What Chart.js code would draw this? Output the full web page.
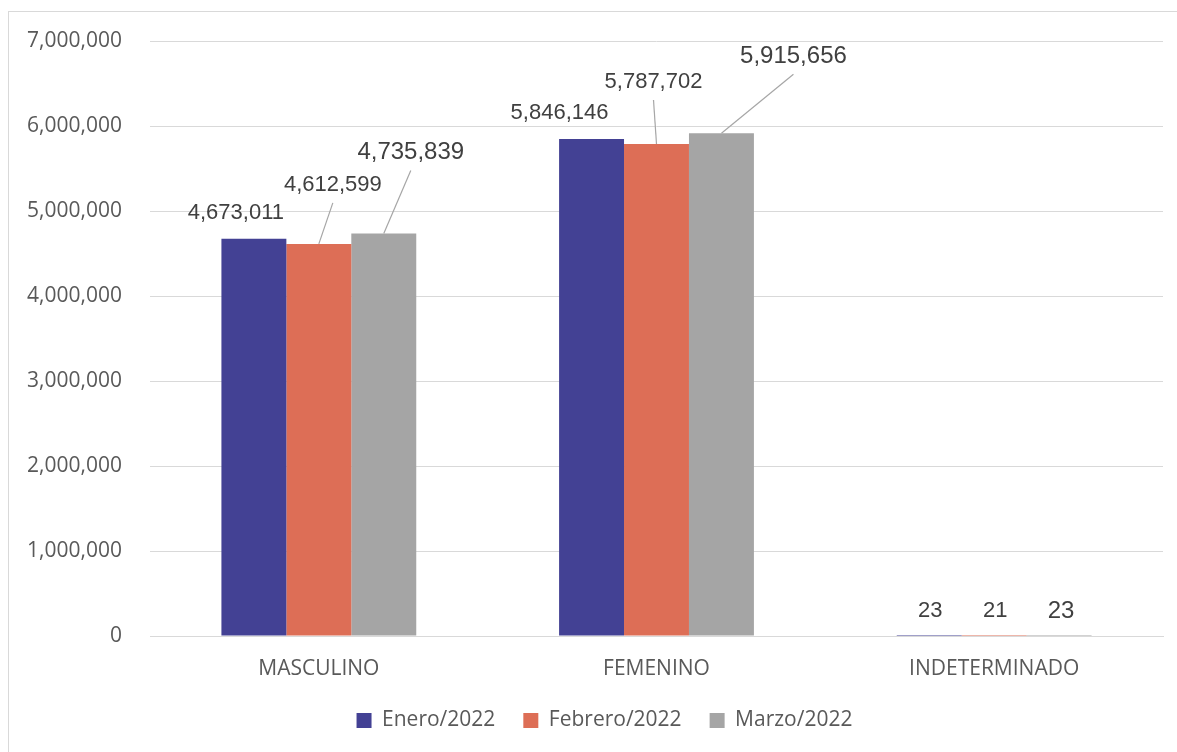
<!DOCTYPE html>
<html>
<head>
<meta charset="utf-8">
<script src="https://cdn.jsdelivr.net/npm/chart.js@4"></script>
<style>
  body { margin: 0; background: #fff; }
  #marco { position: absolute; left: 8px; top: 11px; width: 1180px; height: 760px; border: 1px solid #d9d9d9; }
  #myChart { position: absolute; left: 0; top: 0; }
</style>
</head>
<body>
<div id="marco"></div>
<canvas id="myChart" width="1177" height="752"></canvas>
<script>
// datos
var categorias = ['MASCULINO', 'FEMENINO', 'INDETERMINADO'];
var enero = [4673011, 5846146, 23];
var febrero = [4612599, 5787702, 21];
var marzo = [4735839, 5915656, 23];
var series = ['Enero/2022', 'Febrero/2022', 'Marzo/2022'];
var colores = ['rgb(67, 65, 148)', 'rgb(221, 110, 86)', 'rgb(165, 165, 165)'];

// desplazamiento de cada etiqueta respecto al tope de su barra [dx, dy, linea guia]
var desplaz = [
    [[-18, -26, false], [-32, -26, false], [1, -25, false]],
    [[14, -59, true], [-3, -62, true], [1, -25, false]],
    [[27, -81, true], [72, -77, true], [2, -25, false]]
];
var tamLetra = [22, 22, 24];

var etiquetas = {
    id: 'etiquetas',
    afterLayout: function(chart) {
        // la leyenda va algo corrida a la derecha
        chart.legend.left += 23;
        chart.legend.right += 23;
    },
    afterDatasetsDraw: function(chart) {
        var ctx = chart.ctx;
        ctx.save();
        chart.data.datasets.forEach(function(ds, i) {
            var meta = chart.getDatasetMeta(i);
            meta.data.forEach(function(bar, j) {
                var d = desplaz[i][j];
                var x = bar.x + d[0];
                var y = bar.y + d[1];
                if (d[2]) {
                    ctx.strokeStyle = '#a6a6a6';
                    ctx.lineWidth = 1.2;
                    ctx.beginPath();
                    ctx.moveTo(x, y + 18);
                    ctx.lineTo(bar.x, bar.y);
                    ctx.stroke();
                }
                ctx.fillStyle = '#404040';
                ctx.font = tamLetra[i] + 'px "Liberation Sans", Arial, sans-serif';
                ctx.textAlign = 'center';
                ctx.textBaseline = 'middle';
                ctx.fillText(ds.data[j].toLocaleString('en-US'), x, y);
            });
        });
        ctx.restore();
    }
};

function init() {
    var ctx = document.getElementById('myChart').getContext('2d');
    var datos = [enero, febrero, marzo];
    var chart = new Chart(ctx, {
        type: 'bar',
        data: {
            labels: categorias,
            datasets: series.map(function(s, i) {
                return {
                    label: s,
                    data: datos[i],
                    backgroundColor: colores[i],
                    borderWidth: 0,
                    categoryPercentage: 0.577,
                    barPercentage: 1.0
                };
            })
        },
        options: {
            responsive: false,
            animation: false,
            layout: { padding: { left: 0, right: 14, top: 41, bottom: 11 } },
            plugins: {
                legend: {
                    position: 'bottom',
                    labels: {
                        boxWidth: 15,
                        boxHeight: 15,
                        padding: 28,
                        color: '#595959',
                        font: { family: '"Open Sans", sans-serif', size: 21 }
                    }
                },
                tooltip: { enabled: false }
            },
            scales: {
                x: {
                    grid: { display: false },
                    border: { display: true, color: '#d9d9d9' },
                    ticks: {
                        color: '#595959',
                        padding: 12,
                        font: { family: '"Open Sans", sans-serif', size: 21 }
                    },
                    afterFit: function(scale) { scale.height = 46; }
                },
                y: {
                    min: 0,
                    max: 7000000,
                    grid: { color: '#d9d9d9', drawTicks: false },
                    border: { display: false },
                    ticks: {
                        stepSize: 1000000,
                        padding: 28,
                        color: '#595959',
                        font: { family: '"Open Sans", sans-serif', size: 21 },
                        callback: function(v) { return v.toLocaleString('en-US'); }
                    },
                    afterFit: function(scale) { scale.width = 150; }
                }
            }
        },
        plugins: [etiquetas]
    });
}
init();
</script>
</body>
</html>
